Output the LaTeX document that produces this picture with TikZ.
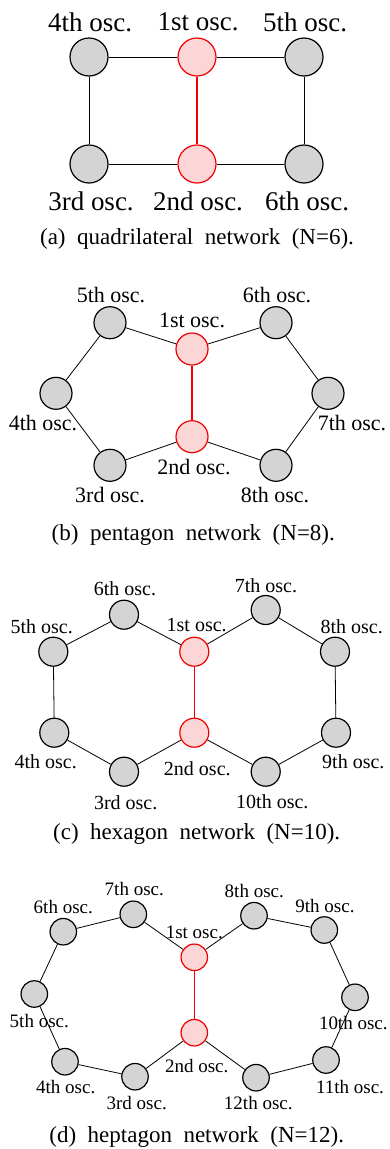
\documentclass[tikz,border=0pt]{standalone}
\usepackage{fontspec}
\setmainfont{Liberation Serif}
\definecolor{nodegray}{RGB}{212,212,212}
\definecolor{nodepink}{RGB}{252,214,214}
\definecolor{nodered}{RGB}{240,0,0}
\begin{document}
\begin{tikzpicture}[x=1pt,y=-1pt,
  osc/.style={circle,draw=black,fill=nodegray,line width=1.2pt,inner sep=0pt},
  osr/.style={circle,draw=nodered,fill=nodepink,line width=1.2pt,inner sep=0pt},
  sa/.style={minimum size=38pt}, sb/.style={minimum size=32pt},
  sc/.style={minimum size=29pt}, sd/.style={minimum size=26.5pt},
  lbl/.style={inner sep=0pt,anchor=center},
  la/.style={lbl,font=\fontsize{27}{30}\selectfont},
  lb/.style={lbl,font=\fontsize{22}{24}\selectfont},
  lc/.style={lbl,font=\fontsize{20}{22}\selectfont},
  ld/.style={lbl,font=\fontsize{19}{21}\selectfont},
  captext/.style={lbl,font=\fontsize{23}{26}\selectfont},
  edge/.style={draw=black,line width=0.8pt},
  redge/.style={draw=nodered,line width=1.3pt}]
\useasboundingbox (0,0) rectangle (389,1149);
% ---------- (a)
\node[osc,sa] (a4) at (89,57) {};
\node[osr,sa] (a1) at (197,57) {};
\node[osc,sa] (a5) at (304,57) {};
\node[osc,sa] (a3) at (89,164) {};
\node[osr,sa] (a2) at (197,164) {};
\node[osc,sa] (a6) at (304,164) {};
\node[la] (la4) at (90,22) {4th osc.};
\node[la] (la1) at (198,22) {1st osc.};
\node[la] (la5) at (305,22) {5th osc.};
\node[la] (la3) at (91,201) {3rd osc.};
\node[la] (la2) at (198,201) {2nd osc.};
\node[la] (la6) at (307,201) {6th osc.};
\draw[edge] (a4) -- (a1); \draw[edge] (a1) -- (a5);
\draw[edge] (a4) -- (a3); \draw[edge] (a5) -- (a6);
\draw[edge] (a3) -- (a2); \draw[edge] (a2) -- (a6);
\draw[redge] (a1) -- (a2);
\node[captext] (capa) at (197,239) {(a)\ \ quadrilateral\ \ network\ \ (N=6).};
% ---------- (b)
\node[osc,sb] (b5) at (110,322.7) {};
\node[osc,sb] (b6) at (276,322.7) {};
\node[osr,sb] (b1) at (192,349) {};
\node[osc,sb] (b4) at (56,393.3) {};
\node[osc,sb] (b7) at (328,393.3) {};
\node[osr,sb] (b2) at (192,436.7) {};
\node[osc,sb] (b3) at (110,465.3) {};
\node[osc,sb] (b8) at (276,465.3) {};
\node[lb] (lb5) at (111,295.5) {5th osc.};
\node[lb] (lb6) at (277,295.5) {6th osc.};
\node[lb] (lb1) at (192,320.5) {1st osc.};
\node[lb] (lb4) at (43,423) {4th osc.};
\node[lb] (lb7) at (352,423) {7th osc.};
\node[lb] (lb2) at (194,467.5) {2nd osc.};
\node[lb] (lb3) at (110,495.5) {3rd osc.};
\node[lb] (lb8) at (275,495.5) {8th osc.};
\draw[edge] (b1) -- (b5); \draw[edge] (b5) -- (b4);
\draw[edge] (b4) -- (b3); \draw[edge] (b3) -- (b2);
\draw[edge] (b1) -- (b6); \draw[edge] (b6) -- (b7);
\draw[edge] (b7) -- (b8); \draw[edge] (b8) -- (b2);
\draw[redge] (b1) -- (b2);
\node[captext] (capb) at (193.3,535) {(b)\ \ pentagon\ \ network\ \ (N=8).};
% ---------- (c)
\node[osc,sc] (c6) at (124,614.7) {};
\node[osc,sc] (c7) at (265.7,610) {};
\node[osc,sc] (c5) at (53.3,651.7) {};
\node[osr,sc] (c1) at (194.3,651.7) {};
\node[osc,sc] (c8) at (335,651.7) {};
\node[osc,sc] (c4) at (54.3,732.7) {};
\node[osr,sc] (c2) at (194.3,732.7) {};
\node[osc,sc] (c9) at (336,732.7) {};
\node[osc,sc] (c3) at (124,771.7) {};
\node[osc,sc] (c10) at (265.7,771.7) {};
\node[lc] (lc6) at (125,588.3) {6th osc.};
\node[lc] (lc7) at (266,586) {7th osc.};
\node[lc] (lc5) at (41.7,626.7) {5th osc.};
\node[lc] (lc1) at (196.7,625.3) {1st osc.};
\node[lc] (lc8) at (351.7,626.7) {8th osc.};
\node[lc] (lc4) at (45.7,761.7) {4th osc.};
\node[lc] (lc2) at (197.3,768.3) {2nd osc.};
\node[lc] (lc9) at (353.3,761.7) {9th osc.};
\node[lc] (lc3) at (125.7,802.7) {3rd osc.};
\node[lc] (lc10) at (272.3,801.7) {10th osc.};
\draw[edge] (c1) -- (c6); \draw[edge] (c6) -- (c5);
\draw[edge] (c5) -- (c4); \draw[edge] (c4) -- (c3);
\draw[edge] (c3) -- (c2);
\draw[edge] (c1) -- (c7); \draw[edge] (c7) -- (c8);
\draw[edge] (c8) -- (c9); \draw[edge] (c9) -- (c10);
\draw[edge] (c10) -- (c2);
\draw[redge] (c1) -- (c2);
\node[captext] (capc) at (196.7,834.3) {(c)\ \ hexagon\ \ network\ \ (N=10).};
% ---------- (d)
\node[osc,sd] (d7) at (133.3,914.3) {};
\node[osc,sd] (d8) at (254,915.7) {};
\node[osc,sd] (d6) at (63.3,931.7) {};
\node[osc,sd] (d9) at (324.3,930) {};
\node[osr,sd] (d1) at (194.3,957.3) {};
\node[osc,sd] (d5) at (34.3,994) {};
\node[osc,sd] (d10) at (355,997.3) {};
\node[osr,sd] (d2) at (194.3,1032.7) {};
\node[osc,sd] (d4) at (65,1061.7) {};
\node[osc,sd] (d11) at (326,1060) {};
\node[osc,sd] (d3) at (135,1076.7) {};
\node[osc,sd] (d12) at (256,1077.7) {};
\node[ld] (ld7) at (134.3,889.3) {7th osc.};
\node[ld] (ld8) at (254.3,890.7) {8th osc.};
\node[ld] (ld6) at (63.3,907.3) {6th osc.};
\node[ld] (ld9) at (325,906) {9th osc.};
\node[ld] (ld1) at (194.3,932.7) {1st osc.};
\node[ld] (ld5) at (39.3,1020.7) {5th osc.};
\node[ld] (ld10) at (353.3,1023.3) {10th osc.};
\node[ld] (ld2) at (196.7,1066) {2nd osc.};
\node[ld] (ld4) at (65.7,1087.3) {4th osc.};
\node[ld] (ld11) at (350,1086.7) {11th osc.};
\node[ld] (ld3) at (136.7,1102.7) {3rd osc.};
\node[ld] (ld12) at (258.3,1103.3) {12th osc.};
\draw[edge] (d1) -- (d7); \draw[edge] (d7) -- (d6);
\draw[edge] (d6) -- (d5); \draw[edge] (d5) -- (d4);
\draw[edge] (d4) -- (d3); \draw[edge] (d3) -- (d2);
\draw[edge] (d1) -- (d8); \draw[edge] (d8) -- (d9);
\draw[edge] (d9) -- (d10); \draw[edge] (d10) -- (d11);
\draw[edge] (d11) -- (d12); \draw[edge] (d12) -- (d2);
\draw[redge] (d1) -- (d2);
\node[captext] (capd) at (196.7,1137.3) {(d)\ \ heptagon\ \ network\ \ (N=12).};
\end{tikzpicture}
\end{document}
